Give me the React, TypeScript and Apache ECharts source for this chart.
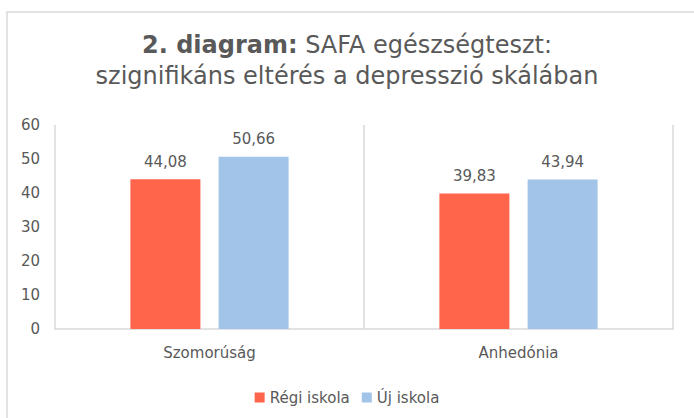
import React, { useEffect, useRef } from "react";
import * as echarts from "echarts";

const categories = ["Szomorúság", "Anhedónia"];
const seriesNames = ["Régi iskola", "Új iskola"];
const regiValues = [44.08, 39.83];
const ujValues = [50.66, 43.94];
const yTicks = { min: 0, max: 60, interval: 10 };
const titleBold = "2. diagram:";
const titleRest = " SAFA egészségteszt:";
const titleLine2 = "szignifikáns eltérés a depresszió skálában";

const FONT = "DejaVu Sans";
const TXT = "#595959";

export default function App() {
  const ref = useRef<HTMLDivElement>(null);
  useEffect(() => {
    document.body.style.margin = "0";
    const chart = echarts.init(ref.current!, null, { renderer: "svg" });
    const labelFmt = (p: any) => Number(p.value).toFixed(2).replace(".", ",");
    chart.setOption({
      animation: false,
      backgroundColor: "#ffffff",
      textStyle: { fontFamily: FONT, color: TXT },
      graphic: [
        {
          type: "rect",
          shape: { x: 7, y: 12, width: 720, height: 440 },
          style: { fill: "none", stroke: "#d9d9d9", lineWidth: 1.5 },
          silent: true,
        },
      ],
      title: {
        left: "center",
        top: 24,
        text: `{b|${titleBold}}{n|${titleRest}}\n{n|${titleLine2}}`,
        textStyle: {
          rich: {
            b: { fontFamily: FONT, fontSize: 24, fontWeight: "bold", color: TXT, lineHeight: 31 },
            n: { fontFamily: FONT, fontSize: 24, fontWeight: "normal", color: TXT, lineHeight: 31 },
          },
        },
      },
      legend: {
        data: seriesNames,
        left: "center",
        top: 385,
        icon: "rect",
        itemWidth: 10,
        itemHeight: 10,
        itemGap: 12,
        textStyle: { fontFamily: FONT, fontSize: 15, color: TXT },
      },
      grid: { left: 55, right: 21, top: 125, bottom: 89, containLabel: false },
      xAxis: {
        type: "category",
        data: categories,
        axisLine: { show: true, lineStyle: { color: "#d9d9d9", width: 1.5 } },
        axisTick: { show: false },
        splitLine: { show: true, lineStyle: { color: "#d9d9d9", width: 1.5 } },
        axisLabel: { fontFamily: FONT, fontSize: 15, color: TXT, margin: 16 },
      },
      yAxis: {
        type: "value",
        min: yTicks.min,
        max: yTicks.max,
        interval: yTicks.interval,
        axisLine: { show: false },
        axisTick: { show: false },
        splitLine: { show: false },
        axisLabel: { fontFamily: FONT, fontSize: 15, color: TXT, margin: 15 },
      },
      series: [
        {
          name: seriesNames[0],
          type: "bar",
          data: regiValues,
          barWidth: 70,
          barGap: "26%",
          itemStyle: { color: "#ff654b" },
          label: { show: true, position: "top", distance: 10, fontFamily: FONT, fontSize: 15, color: TXT, formatter: labelFmt },
        },
        {
          name: seriesNames[1],
          type: "bar",
          data: ujValues,
          barWidth: 70,
          barGap: "26%",
          itemStyle: { color: "#a1c4e8" },
          label: { show: true, position: "top", distance: 10, fontFamily: FONT, fontSize: 15, color: TXT, formatter: labelFmt },
        },
      ],
    });
    return () => chart.dispose();
  }, []);
  return <div ref={ref} style={{ position: "absolute", left: 0, top: 0, width: 694, height: 418 }} />;
}
